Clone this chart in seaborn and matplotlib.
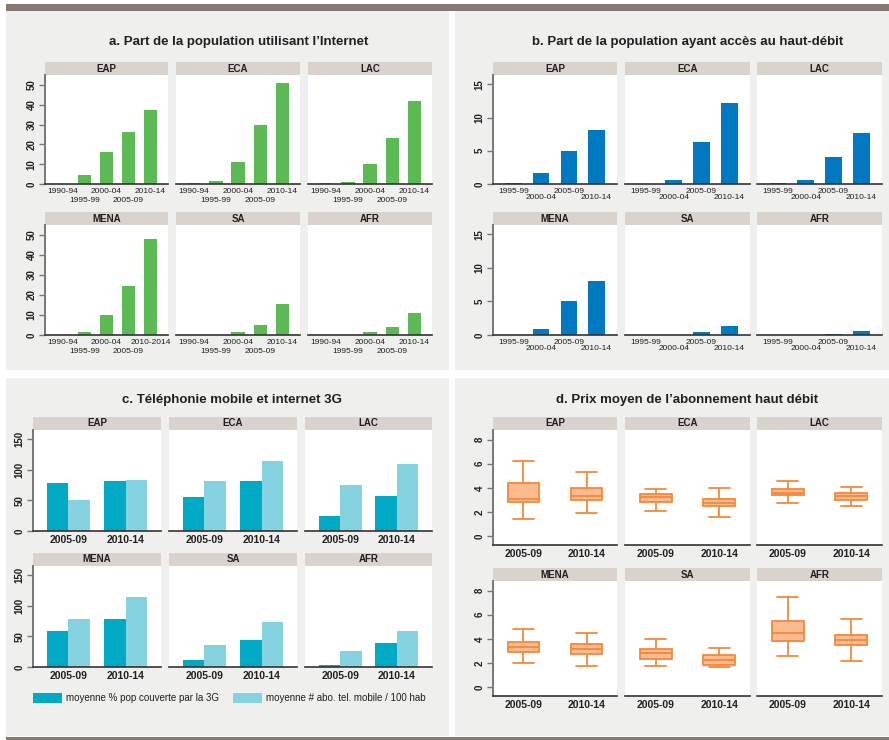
import numpy as np
import pandas as pd
import matplotlib
matplotlib.use("Agg")
import matplotlib.pyplot as plt
import matplotlib.transforms as mtransforms
from matplotlib.patches import Rectangle, Patch
import seaborn as sns

# ---------------- data ----------------
regions = ["EAP", "ECA", "LAC", "MENA", "SA", "AFR"]

periods_a = ["1990-94", "1995-99", "2000-04", "2005-09", "2010-14"]
labels_a_mena = ["1990-94", "1995-99", "2000-04", "2005-09", "2010-2014"]
internet_eap = [0.1, 4.3, 16.3, 26.3, 37.3]
internet_eca = [0.3, 1.7, 11.2, 29.8, 50.8]
internet_lac = [0.3, 1.2, 9.9, 23.4, 41.8]
internet_mena = [0.0, 1.7, 9.9, 24.7, 47.8]
internet_sa = [0.0, 0.0, 1.7, 5.2, 15.7]
internet_afr = [0.0, 0.0, 1.7, 4.2, 11.2]

periods_b = ["1995-99", "2000-04", "2005-09", "2010-14"]
broadband_eap = [0.1, 1.7, 5.0, 8.1]
broadband_eca = [0.0, 0.65, 6.3, 12.2]
broadband_lac = [0.1, 0.65, 4.1, 7.7]
broadband_mena = [0.0, 0.95, 5.0, 8.1]
broadband_sa = [0.0, 0.0, 0.5, 1.4]
broadband_afr = [0.0, 0.0, 0.2, 0.65]

periods_c = ["2005-09", "2010-14"]
series_c = ["moyenne % pop couverte par la 3G", "moyenne # abo. tel. mobile / 100 hab"]
cov3g_eap = [78, 81.5]
cov3g_eca = [55.4, 81.5]
cov3g_lac = [24.5, 57]
cov3g_mena = [59, 79]
cov3g_sa = [12, 44.6]
cov3g_afr = [3.8, 39.7]
subs_eap = [51, 83]
subs_eca = [81.5, 114]
subs_lac = [75, 109]
subs_mena = [79, 115]
subs_sa = [36.4, 74]
subs_afr = [26.6, 59.2]

periods_d = ["2005-09", "2010-14"]
# five-number summaries (min, Q1, median, Q3, max)
price_eap_0509 = [1.45, 2.8, 3.1, 4.4, 6.25]
price_eap_1014 = [1.9, 3.0, 3.35, 4.0, 5.35]
price_eca_0509 = [2.1, 2.85, 3.2, 3.45, 3.9]
price_eca_1014 = [1.55, 2.45, 2.7, 3.1, 4.0]
price_lac_0509 = [2.75, 3.4, 3.6, 3.9, 4.6]
price_lac_1014 = [2.45, 3.0, 3.3, 3.6, 4.1]
price_mena_0509 = [2.0, 2.9, 3.35, 3.7, 4.85]
price_mena_1014 = [1.7, 2.75, 3.15, 3.55, 4.5]
price_sa_0509 = [1.75, 2.35, 2.8, 3.15, 4.0]
price_sa_1014 = [1.65, 1.85, 2.25, 2.65, 3.2]
price_afr_0509 = [2.6, 3.8, 4.5, 5.45, 7.45]
price_afr_1014 = [2.15, 3.45, 3.9, 4.3, 5.65]

titles = ["a. Part de la population utilisant l\u2019Internet",
          "b. Part de la population ayant acc\u00e8s au haut-d\u00e9bit",
          "c. T\u00e9l\u00e9phonie mobile et internet 3G",
          "d. Prix moyen de l\u2019abonnement haut d\u00e9bit"]

internet = dict(zip(regions, [internet_eap, internet_eca, internet_lac, internet_mena, internet_sa, internet_afr]))
broadband = dict(zip(regions, [broadband_eap, broadband_eca, broadband_lac, broadband_mena, broadband_sa, broadband_afr]))
cov3g = dict(zip(regions, [cov3g_eap, cov3g_eca, cov3g_lac, cov3g_mena, cov3g_sa, cov3g_afr]))
subs = dict(zip(regions, [subs_eap, subs_eca, subs_lac, subs_mena, subs_sa, subs_afr]))
price = dict(zip(regions, [(price_eap_0509, price_eap_1014), (price_eca_0509, price_eca_1014),
                           (price_lac_0509, price_lac_1014), (price_mena_0509, price_mena_1014),
                           (price_sa_0509, price_sa_1014), (price_afr_0509, price_afr_1014)]))

# ---------------- style ----------------
GREEN = "#5cba55"
BLUE = "#0079c1"
TEAL = "#00aac4"
LTEAL = "#85d3e0"
BOX_FILL = "#f9bb8f"
BOX_EDGE = "#f3893d"
PANEL_BG = "#efefed"
STRIP = "#d9d2cd"
BAR_TOP = "#857a71"
TXT = "#231f20"
GRID = "#383838"

sns.set_style("white")
plt.rcParams["font.family"] = ["Liberation Sans", "DejaVu Sans"]
plt.rcParams["text.color"] = TXT
plt.rcParams["xtick.color"] = TXT
plt.rcParams["ytick.color"] = TXT

W, H = 889, 740
fig = plt.figure(figsize=(W / 100, H / 100), dpi=100)
fig.patch.set_facecolor("white")


def frect(x0, y0, x1, y1, color, z=-2):
    fig.add_artist(Rectangle((x0 / W, 1 - y1 / H), (x1 - x0) / W, (y1 - y0) / H,
                             transform=fig.transFigure, facecolor=color,
                             edgecolor="none", zorder=z))


# backgrounds
frect(6, 4, 889, 11, BAR_TOP)
frect(6, 11, 449, 370, PANEL_BG)
frect(455, 11, 889, 370, PANEL_BG)
frect(6, 378, 449, 736, PANEL_BG)
frect(455, 378, 889, 736, PANEL_BG)
frect(6, 737, 889, 740, BAR_TOP)

title_pos = [(238.5, 42), (687.5, 42), (232.5, 400), (687.5, 400)]
for t, (tx, ty) in zip(titles, title_pos):
    fig.text(tx / W, 1 - ty / H, t, ha="center", va="center", fontsize=9.5,
             fontweight="bold", color=TXT)


def make_ax(x0, x1, ys, y0, y1, label, first_col):
    frect(x0, ys, x1, y0, STRIP, z=-1)
    fig.text((x0 + x1) / 2 / W, 1 - (ys + y0) / 2 / H, label, ha="center", va="center",
             fontsize=7, fontweight="bold", color=TXT)
    ax = fig.add_axes([x0 / W, 1 - y1 / H, (x1 - x0) / W, (y1 - y0) / H])
    ax.set_facecolor("white")
    for s in ["top", "right"]:
        ax.spines[s].set_visible(False)
    ax.spines["bottom"].set_color("#333333")
    ax.spines["bottom"].set_linewidth(1.2)
    if first_col:
        ax.spines["left"].set_color("#777777")
        ax.spines["left"].set_linewidth(1.4)
    else:
        ax.spines["left"].set_visible(False)
    return ax


def style_y(ax, ticks, grid_ticks, first_col):
    ax.set_yticks(ticks)
    ax.set_yticks(grid_ticks, minor=True)
    ax.grid(False)
    ax.grid(True, which="minor", axis="y", color=GRID, linewidth=1.1)
    ax.set_axisbelow(True)
    ax.tick_params(axis="y", which="minor", left=False, length=0)
    if first_col:
        ax.tick_params(axis="y", which="major", left=True, length=4, width=1,
                       color="#777777", pad=2, labelsize=7, labelrotation=90)
        for lab in ax.get_yticklabels():
            lab.set_va("center")
            lab.set_fontweight("bold")
    else:
        ax.tick_params(axis="y", which="major", left=False, labelleft=False)
    ax.set_ylabel("")
    ax.set_xlabel("")


def stagger(ax, dy):
    off = mtransforms.ScaledTranslation(0, -dy / 100, fig.dpi_scale_trans)
    for i, lab in enumerate(ax.get_xticklabels()):
        if i % 2 == 1:
            lab.set_transform(lab.get_transform() + off)


cols_ab = {"a": [(45, 168), (176, 300), (308, 432)], "b": [(493, 617), (625, 750), (757, 882)]}
rows_ab = [(62, 75, 184), (212, 225, 335)]
cols_cd = {"c": [(33, 161), (169, 297), (305, 432)], "d": [(493, 617), (625, 750), (757, 882)]}
rows_c = [(417, 430, 531), (553, 566, 667)]
rows_d = [(417, 430, 545), (568, 581, 696)]

for i, reg in enumerate(regions):
    r, c = divmod(i, 3)
    first = c == 0

    # ---- panel a ----
    ys, y0, y1 = rows_ab[r]
    x0, x1 = cols_ab["a"][c]
    ax = make_ax(x0, x1, ys, y0, y1, reg, first)
    dfa = pd.DataFrame({"period": periods_a, "value": internet[reg]})
    sns.barplot(data=dfa, x="period", y="value", order=periods_a, color=GREEN,
                saturation=1, width=0.6, errorbar=None, linewidth=0, ax=ax)
    ax.set_xlim(-0.8, 4.8)
    ax.set_ylim(0, 55)
    style_y(ax, [0, 10, 20, 30, 40, 50], [10, 20, 30, 40, 50], first)
    ax.set_xticks(range(len(periods_a)))
    ax.set_xticklabels(labels_a_mena if reg == "MENA" else periods_a)
    ax.tick_params(axis="x", length=0, pad=3, labelsize=6)
    stagger(ax, 8.5)

    # ---- panel b ----
    x0, x1 = cols_ab["b"][c]
    ax = make_ax(x0, x1, ys, y0, y1, reg, first)
    dfb = pd.DataFrame({"period": periods_b, "value": broadband[reg]})
    sns.barplot(data=dfb, x="period", y="value", order=periods_b, color=BLUE,
                saturation=1, width=0.6, errorbar=None, linewidth=0, ax=ax)
    ax.set_xlim(-0.75, 3.75)
    ax.set_ylim(0, 16.4)
    style_y(ax, [0, 5, 10, 15], [5, 10, 15], first)
    ax.tick_params(axis="x", length=0, pad=3, labelsize=6)
    stagger(ax, 6)

    # ---- panel c ----
    ys, y0, y1 = rows_c[r]
    x0, x1 = cols_cd["c"][c]
    ax = make_ax(x0, x1, ys, y0, y1, reg, first)
    dfc = pd.DataFrame({"period": periods_c * 2,
                        "serie": [series_c[0]] * 2 + [series_c[1]] * 2,
                        "value": cov3g[reg] + subs[reg]})
    sns.barplot(data=dfc, x="period", y="value", hue="serie", order=periods_c,
                hue_order=series_c, palette=[TEAL, LTEAL], saturation=1, width=0.76,
                errorbar=None, linewidth=0, legend=False, ax=ax)
    ax.set_xlim(-0.62, 1.62)
    ax.set_ylim(0, 165)
    style_y(ax, [0, 50, 100, 150], [50, 100], first)
    ax.tick_params(axis="x", length=0, pad=3, labelsize=7.5)
    for lab in ax.get_xticklabels():
        lab.set_fontweight("bold")

    # ---- panel d ----
    ys, y0, y1 = rows_d[r]
    x0, x1 = cols_cd["d"][c]
    ax = make_ax(x0, x1, ys, y0, y1, reg, first)
    p0509, p1014 = price[reg]
    dfd = pd.DataFrame({"period": [periods_d[0]] * len(p0509) + [periods_d[1]] * len(p1014),
                        "value": list(p0509) + list(p1014)})
    sns.boxplot(data=dfd, x="period", y="value", order=periods_d, whis=(0, 100),
                width=0.5, color=BOX_FILL, linecolor=BOX_EDGE, linewidth=1.3,
                saturation=1, fliersize=0, ax=ax)
    for ln in ax.lines:
        xd = np.asarray(ln.get_xdata(), dtype=float)
        yd = np.asarray(ln.get_ydata(), dtype=float)
        if len(xd) == 2 and yd[0] == yd[1] and abs(abs(xd[1] - xd[0]) - 0.25) < 1e-6:
            cx = xd.mean()
            ln.set_xdata([cx - 0.165, cx + 0.165])
    ax.set_xlim(-0.48, 1.48)
    ax.set_ylim(-0.75, 8.8)
    style_y(ax, [0, 2, 4, 6, 8], [2, 4, 6, 8], first)
    ax.tick_params(axis="x", length=0, pad=3, labelsize=7.5)
    for lab in ax.get_xticklabels():
        lab.set_fontweight("bold")

# legend for panel c
handles = [Patch(facecolor=TEAL, edgecolor="none", label=series_c[0]),
           Patch(facecolor=LTEAL, edgecolor="none", label=series_c[1])]
fig.legend(handles=handles, loc="upper left", bbox_to_anchor=(33 / W, 1 - 693 / H),
           ncol=2, frameon=False, fontsize=7, handlelength=3.0, handleheight=1.2,
           handletextpad=0.4, columnspacing=1.4, borderpad=0, borderaxespad=0)

fig.savefig("out.png", dpi=100, facecolor="white")
